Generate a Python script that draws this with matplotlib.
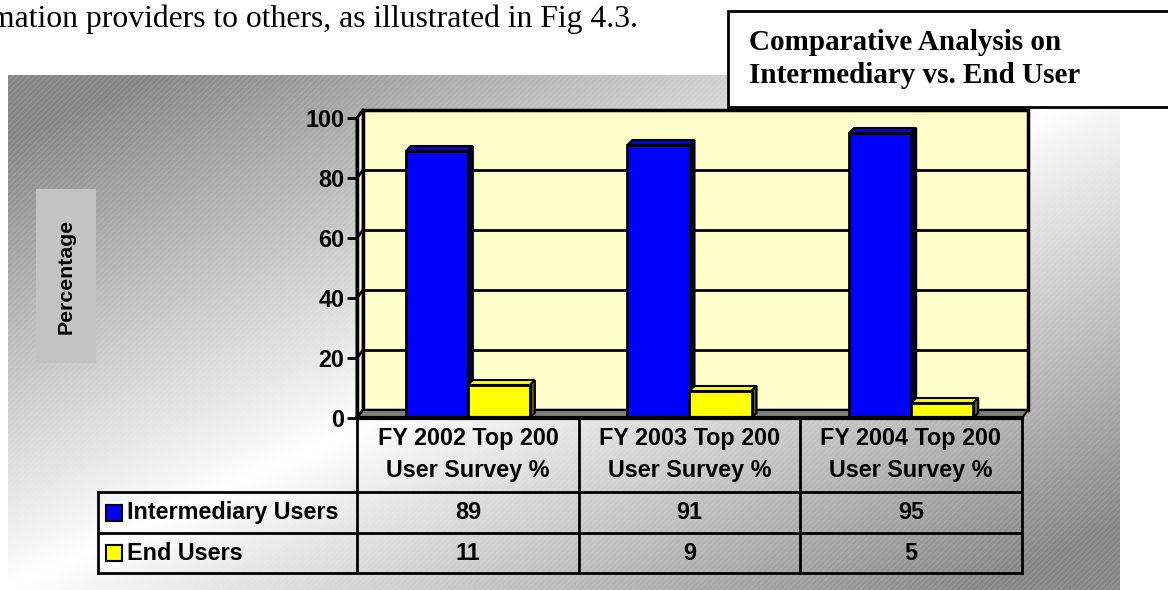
import matplotlib.pyplot as plt
import numpy as np
from matplotlib.patches import Rectangle, Polygon
from matplotlib.transforms import ScaledTranslation, IdentityTransform

# data
categories = ['FY 2002 Top 200\nUser Survey %', 'FY 2003 Top 200\nUser Survey %', 'FY 2004 Top 200\nUser Survey %']
intermediary = [89, 91, 95]
end_users = [11, 9, 5]
series_names = ['Intermediary Users', 'End Users']
series_colors = ['#0000FF', '#FFFF00']
shade_colors = ['#000050', '#606000']
yticks = [0, 20, 40, 60, 80, 100]

SANS = 'Liberation Sans'
SERIF = 'Liberation Serif'
FS = 16.8

W, H = 1168, 590
fig = plt.figure(figsize=(W / 100, H / 100), dpi=100)

# background layer, pixel coordinates (y down)
bg = fig.add_axes([0, 0, 1, 1], zorder=0)
bg.set_xlim(0, W)
bg.set_ylim(H, 0)
bg.axis('off')

# grey diagonal gradient of the chart area
cx0, cx1, cy0, cy1 = 8, 1120, 75, 590
U, V = np.meshgrid(np.linspace(0, 1, 400), np.linspace(0, 1, 200))
t = (U + V) / 2
shade = 1 - 0.47 * np.clip(np.abs(2 * t - 1) * 1.15, 0, 1)
bg.imshow(shade, cmap='gray', vmin=0, vmax=1, extent=(cx0, cx1, cy1, cy0),
          aspect='auto', interpolation='bilinear', zorder=0)
plt.rcParams['hatch.linewidth'] = 0.6
bg.add_patch(Rectangle((cx0, cy0), cx1 - cx0, cy1 - cy0, fill=False, hatch='//////',
                       edgecolor=(1, 1, 1, 0.18), lw=0, zorder=1))

# intro sentence (cut off on the left, as in the page)
bg.text(-10, 27, 'mation providers to others, as illustrated in Fig 4.3.', family=SERIF,
        fontsize=22.8, va='baseline', ha='left', zorder=3)

# title box
bg.add_patch(Rectangle((728, 11), 470, 96, facecolor='white', edgecolor='black', lw=2, zorder=3))
bg.text(749, 50, 'Comparative Analysis on', family=SERIF, weight='bold', fontsize=21,
        va='baseline', ha='left', zorder=4)
bg.text(749, 83, 'Intermediary vs. End User', family=SERIF, weight='bold', fontsize=21,
        va='baseline', ha='left', zorder=4)

# y axis title box
bg.add_patch(Rectangle((36, 189), 60, 174, facecolor='#c3c3c3', lw=0, zorder=3))
bg.text(66, 276, 'Percentage', family=SANS, weight='bold', fontsize=15.3, rotation=90,
        va='center', ha='center', zorder=4)

# plot area
ax = fig.add_axes([357 / W, (H - 418) / H, 665 / W, 300 / H], zorder=2)
ax.set_xlim(-0.5, 2.5)
ax.set_ylim(0, 100)
ax.patch.set_visible(False)

depth = ScaledTranslation(6 / 100, 8 / 100, fig.dpi_scale_trans)


def px(x, y):
    return ax.transData.transform((x, y))


# back wall with gridlines
ax.add_patch(Rectangle((0, 0), 1, 1, transform=ax.transAxes + depth, facecolor='#FFFFCC',
                       edgecolor='black', lw=2.5, zorder=0, clip_on=False))
for y in yticks[1:-1]:
    ax.plot([-0.5, 2.5], [y, y], transform=ax.transData + depth, color='black', lw=2,
            zorder=0.5, clip_on=False)

# side wall and floor
d = np.array([6, 8])
bl, tl, br = px(-0.5, 0), px(-0.5, 100), px(2.5, 0)
ax.add_patch(Polygon([bl, tl, tl + d, bl + d], closed=True, transform=IdentityTransform(),
                     facecolor='#FFFFCC', edgecolor='black', lw=2, zorder=0.6, clip_on=False))
for y in yticks:
    p = px(-0.5, y)
    ax.plot([p[0], p[0] + 6], [p[1], p[1] + 8], transform=IdentityTransform(), color='black',
            lw=2, zorder=0.7, clip_on=False)
ax.add_patch(Polygon([bl, br, br + d, bl + d], closed=True, transform=IdentityTransform(),
                     facecolor='#808080', edgecolor='black', lw=1.5, zorder=0.8, clip_on=False))

# bars with a small top face and side face
w = 0.28
bd = np.array([5, 5])
x = np.arange(len(categories))
for i, vals in enumerate([intermediary, end_users]):
    pos = x + (i - 0.5) * w
    for xp, v in zip(pos, vals):
        a, b = px(xp - w / 2, v), px(xp + w / 2, v)
        c = px(xp + w / 2, 0)
        ax.add_patch(Polygon([a, b, b + bd, a + bd], closed=True, transform=IdentityTransform(),
                             facecolor=series_colors[i], edgecolor='black', lw=1.5, zorder=2,
                             clip_on=False))
        ax.add_patch(Polygon([b, c, c + bd, b + bd], closed=True, transform=IdentityTransform(),
                             facecolor=shade_colors[i], edgecolor='black', lw=1.5, zorder=2,
                             clip_on=False))
    ax.bar(pos, vals, w, color=series_colors[i], edgecolor='black', lw=2, zorder=3)

# axes styling
for s in ['top', 'right']:
    ax.spines[s].set_visible(False)
ax.spines['left'].set_linewidth(2.5)
ax.spines['bottom'].set_linewidth(3)
ax.spines['bottom'].set_zorder(4)
ax.set_xticks([])
ax.set_yticks(yticks)
ax.tick_params(axis='y', length=7, width=2, pad=2, labelsize=FS)
for lab in ax.get_yticklabels():
    lab.set_family(SANS)
    lab.set_weight('bold')

# data table
col_edges = [357, 579, 800, 1022]
legend_left = 98
rows_y = [418, 492, 533, 573]
for xe in col_edges:
    bg.plot([xe, xe], [418, 573], color='black', lw=2, zorder=3)
bg.plot([legend_left, legend_left], [492, 573], color='black', lw=2, zorder=3)
for ye in rows_y[1:]:
    bg.plot([legend_left, col_edges[-1]], [ye, ye], color='black', lw=2, zorder=3)

for j, cat in enumerate(categories):
    xc = (col_edges[j] + col_edges[j + 1]) / 2
    for k, line in enumerate(cat.split('\n')):
        bg.text(xc, 439 + 31 * k, line, family=SANS, weight='bold', fontsize=FS,
                ha='center', va='center', zorder=4)
    for r, vals in enumerate([intermediary, end_users]):
        yc = (rows_y[r + 1] + rows_y[r + 2]) / 2
        bg.text(xc, yc, str(vals[j]), family=SANS, weight='bold', fontsize=FS,
                ha='center', va='center', zorder=4)

for r, name in enumerate(series_names):
    yc = (rows_y[r + 1] + rows_y[r + 2]) / 2
    bg.add_patch(Rectangle((106, yc - 8), 16, 16, facecolor=series_colors[r], edgecolor='black',
                           lw=1.5, zorder=4))
    bg.text(127, yc, name, family=SANS, weight='bold', fontsize=FS, ha='left', va='center', zorder=4)

fig.savefig('out.png', dpi=100)
